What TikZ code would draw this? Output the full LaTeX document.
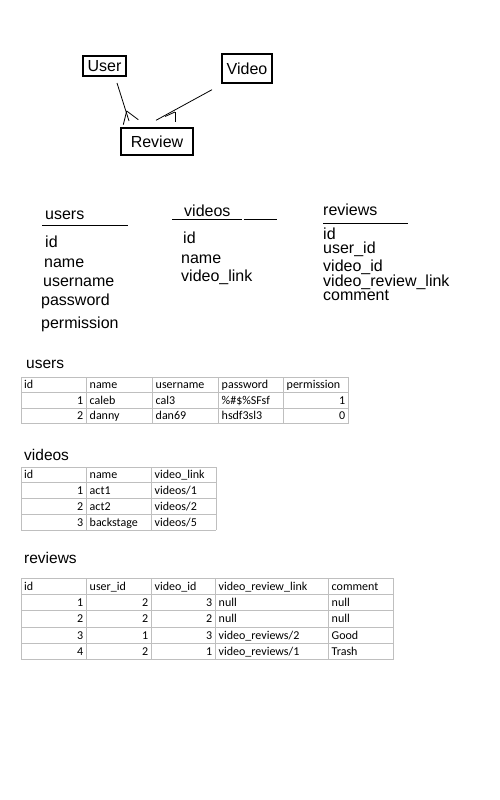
\documentclass[tikz,border=0pt]{standalone}
\usepackage{fontspec}
\setmainfont{Liberation Sans}
\newfontfamily\sheetfont{Carlito}
\usetikzlibrary{positioning}

\begin{document}
\begin{tikzpicture}[x=1pt, y=-1pt]
    % Styles
    \tikzstyle{entity} = [rectangle, draw=black, line width=1.8pt, inner sep=0pt, font=\fontsize{16}{18}\selectfont]
    \tikzstyle{field} = [anchor=base west, inner sep=0pt, text height=11.5pt, text depth=2.5pt, font=\fontsize{16}{18}\selectfont]
    \tikzstyle{title} = [anchor=base west, inner sep=0pt, font=\fontsize{15.5}{18}\selectfont]
    \tikzstyle{txt} = [anchor=base west, inner sep=0pt, font=\sheetfont\fontsize{12}{14}\selectfont]
    \tikzstyle{num} = [anchor=base east, inner sep=0pt, font=\sheetfont\fontsize{12}{14}\selectfont]
    \tikzstyle{cellline} = [draw=black!25, line width=0.8pt]
    \tikzstyle{link} = [line width=0.8pt]
    \tikzstyle{rule} = [line width=0.9pt]

    \useasboundingbox (0,0) rectangle (500,800);

    % Entities
    \node[entity, minimum width=43pt, minimum height=20pt] (user) at (104.5,66) {User};
    \node[entity, minimum width=50pt, minimum height=29pt] (video) at (247,68.5) {Video};
    \node[entity, minimum width=72pt, minimum height=27pt] (review) at (157,141.5) {Review};

    % Crow's feet
    \coordinate (userend) at (117,83);
    \coordinate (userfork) at (126.7,111);
    \coordinate (userfoot) at (129,121);
    \coordinate (userleft) at (123.3,124.7);
    \coordinate (userright) at (138.3,119.7);
    \draw[link] (userend) -- (userfoot);
    \draw[link] (userfork) -- (userleft);
    \draw[link] (userfork) -- (userright);

    \coordinate (videoend) at (212,89.7);
    \coordinate (videofork) at (175,112);
    \coordinate (videofoot) at (156,120.3);
    \coordinate (videoleft) at (165,116.5);
    \coordinate (videodown) at (175,122.3);
    \draw[link] (videoend) -- (videofoot);
    \draw[link] (videofork) -- (videoleft);
    \draw[link] (videofork) -- (videodown);

    % Schema lists
    \node[field] (users) at (45,219) {users};
    \draw[rule] (42,225) -- (128,225);
    \node[field] (users-id) at (45,247) {id};
    \node[field] (users-name) at (44,267) {name};
    \node[field] (users-username) at (43,286) {username};
    \node[field] (users-password) at (41,305) {password};
    \node[field] (users-permission) at (41,328) {permission};

    \node[field] (videos) at (184,216) {videos};
    \draw[rule] (172,219.5) -- (242,219.5);
    \draw[rule] (243.5,219.5) -- (277,219.5);
    \node[field] (videos-id) at (183,243) {id};
    \node[field] (videos-name) at (181,263) {name};
    \node[field] (videos-link) at (181,281) {video\_link};

    \node[field] (reviews) at (323,215) {reviews};
    \draw[rule] (323,223) -- (408,223);
    \node[field] (reviews-id) at (323,239) {id};
    \node[field] (reviews-user) at (323,253.5) {user\_id};
    \node[field] (reviews-video) at (323,271) {video\_id};
    \node[field] (reviews-link) at (323,286) {video\_review\_link};
    \node[field] (reviews-comment) at (323,300.5) {comment};

    % Table: users
    \node[title] (userstable) at (26,368) {users};
    \foreach \x in {21,86,152,218,283,348} \draw[cellline] (\x,377) -- (\x,423.5);
    \foreach \y in {377,392.5,408,423.5} \draw[cellline] (21,\y) -- (348,\y);
    \node[txt] (u01) at (24,388.8) {id};
    \node[txt] (u02) at (89.5,388.8) {name};
    \node[txt] (u03) at (155.5,388.8) {username};
    \node[txt] (u04) at (221.5,388.8) {password};
    \node[txt] (u05) at (286.5,388.8) {permission};
    \node[num] (u11) at (83.5,404.3) {1};
    \node[txt] (u12) at (89.5,404.3) {caleb};
    \node[txt] (u13) at (155.5,404.3) {cal3};
    \node[txt] (u14) at (221.5,404.3) {\%\#\$\%SFsf};
    \node[num] (u15) at (345.5,404.3) {1};
    \node[num] (u21) at (83.5,419.8) {2};
    \node[txt] (u22) at (89.5,419.8) {danny};
    \node[txt] (u23) at (155.5,419.8) {dan69};
    \node[txt] (u24) at (221.5,419.8) {hsdf3sl3};
    \node[num] (u25) at (345.5,419.8) {0};

    % Table: videos
    \node[title] (videostable) at (24,460) {videos};
    \foreach \x in {21,86,151,216} \draw[cellline] (\x,467) -- (\x,530.2);
    \foreach \y in {467,482.8,498.6,514.4,530.2} \draw[cellline] (21,\y) -- (216,\y);
    \node[txt] (v01) at (24,478.9) {id};
    \node[txt] (v02) at (89.5,478.9) {name};
    \node[txt] (v03) at (154.5,478.9) {video\_link};
    \node[num] (v11) at (83.5,494.7) {1};
    \node[txt] (v12) at (89.5,494.7) {act1};
    \node[txt] (v13) at (154.5,494.7) {videos/1};
    \node[num] (v21) at (83.5,510.5) {2};
    \node[txt] (v22) at (89.5,510.5) {act2};
    \node[txt] (v23) at (154.5,510.5) {videos/2};
    \node[num] (v31) at (83.5,526.3) {3};
    \node[txt] (v32) at (89.5,526.3) {backstage};
    \node[txt] (v33) at (154.5,526.3) {videos/5};

    % Table: reviews
    \node[title] (reviewstable) at (24,563) {reviews};
    \foreach \x in {21,86,151,215,328,393} \draw[cellline] (\x,578) -- (\x,659.5);
    \foreach \y in {578,594.3,610.6,626.9,643.2,659.5} \draw[cellline] (21,\y) -- (393,\y);
    \node[txt] (r01) at (24,590.2) {id};
    \node[txt] (r02) at (89.5,590.2) {user\_id};
    \node[txt] (r03) at (154.5,590.2) {video\_id};
    \node[txt] (r04) at (218.5,590.2) {video\_review\_link};
    \node[txt] (r05) at (331.5,590.2) {comment};
    \node[num] (r11) at (83.5,606.5) {1};
    \node[num] (r12) at (148.5,606.5) {2};
    \node[num] (r13) at (212.5,606.5) {3};
    \node[txt] (r14) at (218.5,606.5) {null};
    \node[txt] (r15) at (331.5,606.5) {null};
    \node[num] (r21) at (83.5,622.8) {2};
    \node[num] (r22) at (148.5,622.8) {2};
    \node[num] (r23) at (212.5,622.8) {2};
    \node[txt] (r24) at (218.5,622.8) {null};
    \node[txt] (r25) at (331.5,622.8) {null};
    \node[num] (r31) at (83.5,639.1) {3};
    \node[num] (r32) at (148.5,639.1) {1};
    \node[num] (r33) at (212.5,639.1) {3};
    \node[txt] (r34) at (218.5,639.1) {video\_reviews/2};
    \node[txt] (r35) at (331.5,639.1) {Good};
    \node[num] (r41) at (83.5,655.4) {4};
    \node[num] (r42) at (148.5,655.4) {2};
    \node[num] (r43) at (212.5,655.4) {1};
    \node[txt] (r44) at (218.5,655.4) {video\_reviews/1};
    \node[txt] (r45) at (331.5,655.4) {Trash};
\end{tikzpicture}
\end{document}
